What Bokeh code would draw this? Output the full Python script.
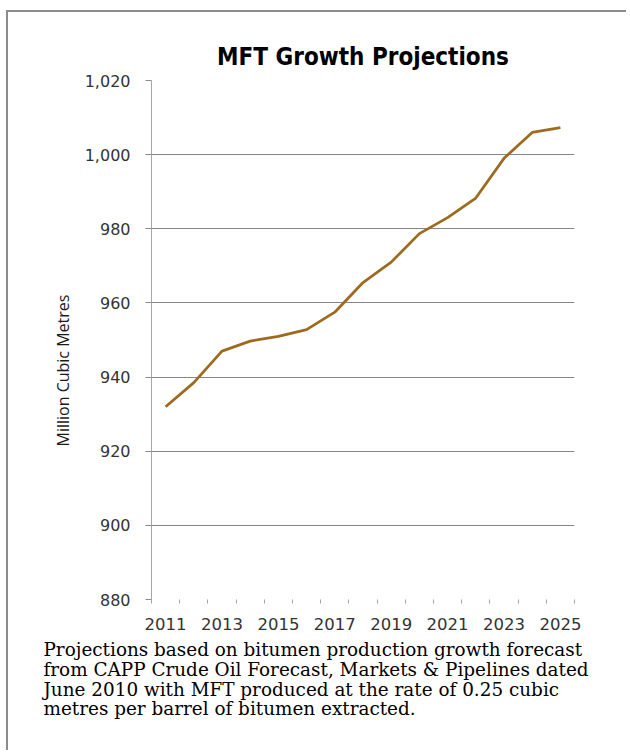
from bokeh.plotting import figure
from bokeh.models import Range1d, FixedTicker, NumeralTickFormatter, Title
from bokeh.embed import file_html
from bokeh.resources import INLINE

# ---- data ----
years = [2011, 2012, 2013, 2014, 2015, 2016, 2017, 2018,
         2019, 2020, 2021, 2022, 2023, 2024, 2025]
mft_volume = [932.0, 938.5, 947.0, 949.7, 951.0, 952.8, 957.5, 965.5,
              971.0, 978.7, 983.0, 988.3, 999.0, 1006.0, 1007.3]
y_ticks = [880, 900, 920, 940, 960, 980, 1000, 1020]
x_label_years = [2011, 2013, 2015, 2017, 2019, 2021, 2023, 2025]

title_text = "MFT Growth Projections"
y_axis_title = "Million Cubic Metres"
caption_lines = [
    "Projections based on bitumen production growth forecast",
    "from CAPP Crude Oil Forecast, Markets & Pipelines dated",
    "June 2010 with MFT produced at the rate of 0.25 cubic",
    "metres per barrel of bitumen extracted.",
]

# category boundaries (ticks between the yearly categories)
boundaries = [y - 0.5 for y in years] + [years[-1] + 0.5]

p = figure(width=620, height=740, output_backend="svg", toolbar_location=None,
           x_range=Range1d(boundaries[0], boundaries[-1]),
           y_range=Range1d(y_ticks[0], y_ticks[-1]),
           min_border_left=143, min_border_right=54,
           min_border_top=68, min_border_bottom=153)
p.styles = {"border-left": "2px solid #8c8c8c", "border-top": "2px solid #8c8c8c",
            "margin-left": "6px", "margin-top": "10px"}
p.outline_line_color = None
p.background_fill_color = "white"
p.border_fill_color = "white"

# title
p.title.text = title_text
p.title.align = "center"
p.title.text_font = "DejaVu Sans Condensed, Roboto, sans-serif"
p.title.text_font_style = "bold"
p.title.text_font_size = "24px"
p.title.text_color = "black"
p.title.standoff = 20

# y axis
p.yaxis.ticker = FixedTicker(ticks=y_ticks)
p.yaxis.formatter = NumeralTickFormatter(format="0,0")
p.yaxis.major_tick_in = 0
p.yaxis.major_tick_out = 6
p.yaxis.minor_tick_in = 0
p.yaxis.minor_tick_out = 0
p.yaxis.major_tick_line_color = "#8c8c8c"
p.yaxis.axis_line_color = "#a6a6a6"
p.yaxis.major_label_text_font = "DejaVu Sans"
p.yaxis.major_label_text_font_size = "16px"
p.yaxis.major_label_text_color = "#333333"
p.yaxis.major_label_standoff = 15

# x axis: labels every other year, small ticks between categories
p.xaxis.ticker = FixedTicker(ticks=x_label_years, minor_ticks=boundaries)
p.xaxis.major_tick_in = 0
p.xaxis.major_tick_out = 0
p.xaxis.minor_tick_in = 0
p.xaxis.minor_tick_out = 4
p.xaxis.minor_tick_line_color = "#a6a6a6"
p.xaxis.axis_line_color = None
p.xaxis.major_label_text_font = "DejaVu Sans"
p.xaxis.major_label_text_font_size = "16.5px"
p.xaxis.major_label_text_color = "#333333"
p.xaxis.major_label_standoff = 14

# grid
p.xgrid.visible = False
p.ygrid.ticker = FixedTicker(ticks=y_ticks[1:-1])
p.ygrid.grid_line_color = "#868686"
p.ygrid.grid_line_width = 1

# series
p.line(years, mft_volume, line_color="#9E6B1E", line_width=2.75)

# y axis title, a little below the frame centre as in the original
p.add_layout(Title(text=y_axis_title, align="left", offset=153,
                   text_font="Open Sans", text_font_size="16px",
                   text_font_style="normal", text_color="#1a1a1a",
                   standoff=16), "left")

# caption under the x axis
p.add_layout(Title(text="\n".join(caption_lines), align="left", offset=-108,
                   vertical_align="bottom",
                   text_font="DejaVu Serif", text_font_size="18.4px",
                   text_font_style="normal", text_color="black",
                   text_line_height=0.94, standoff=10), "below")

open("out.html", "w").write(file_html(p, INLINE))
